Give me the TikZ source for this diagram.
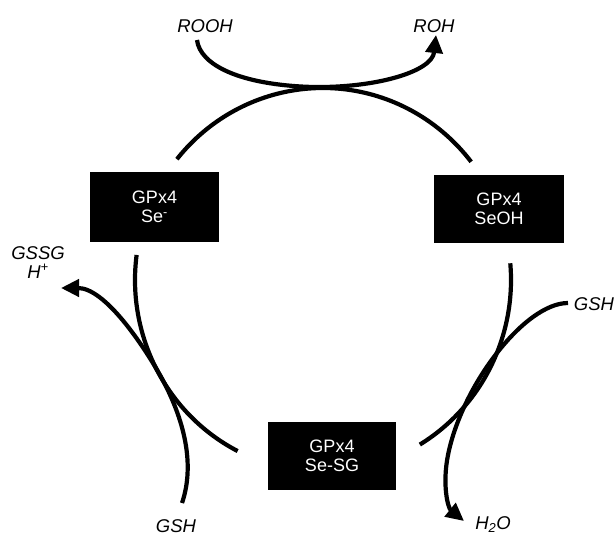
\documentclass[tikz,border=0pt]{standalone}
\usepackage{fontspec}
\setmainfont{Liberation Sans}
\usetikzlibrary{arrows.meta}
\begin{document}
\begin{tikzpicture}[x=1pt,y=1pt,
  ring/.style={line width=4.2pt},
  rxn/.style={line width=4.2pt,-{Triangle[length=18pt,width=17pt]}},
  enzyme/.style={fill=black,text=white,align=center,inner sep=0pt,
    font=\fontsize{18}{19}\selectfont},
  species/.style={inner sep=0pt,align=center,
    font=\fontsize{18.5}{18.5}\selectfont\itshape}]
\useasboundingbox (0,0) rectangle (616,-535);

% enzyme states
\node[enzyme,minimum width=129pt,minimum height=70pt] (sered) at (154.5,-207) {GPx4\\Se\textsuperscript{-}};
\node[enzyme,minimum width=130pt,minimum height=68pt] (seoh) at (499,-209) {GPx4\\SeOH};
\node[enzyme,minimum width=128pt,minimum height=68pt] (sesg) at (332,-456) {GPx4\\Se-SG};

% substrates and products
\node[species,anchor=base] (rooh) at (205,-33) {ROOH};
\node[species,anchor=base] (roh)  at (434,-33) {ROH};
\node[species,anchor=base] (gshr) at (594,-310) {GSH};
\node[species,anchor=base] (h2o)  at (493,-529) {H\textsubscript{2}O};
\node[species,anchor=base] (gshl) at (176,-532) {GSH};
\node[species,anchor=base] (gssg) at (38,-278) {GSSG\\H\textsuperscript{+}};

% catalytic cycle
\coordinate (cyc) at (323,-280);
\draw[ring] ([shift={(141:188 and 192)}]cyc) arc[start angle=141,end angle=38,x radius=188,y radius=192];
\draw[ring] ([shift={(5:188 and 192)}]cyc) arc[start angle=5,end angle=-59,x radius=188,y radius=192];
\draw[ring] ([shift={(172.5:188 and 192)}]cyc) arc[start angle=172.5,end angle=243,x radius=188,y radius=192];

% curve ends next to the labels
\coordinate (roohEnd) at (197,-40);
\coordinate (rohEnd)  at (436,-35);
\coordinate (gshrEnd) at (568,-303);
\coordinate (h2oEnd)  at (464,-521);
\coordinate (gshlEnd) at (182,-503);
\coordinate (gssgEnd) at (61,-288);

% peroxide reduction
\draw[rxn] (roohEnd) .. controls (200,-65) and (240,-85) .. (313,-87)
  .. controls (375,-88) and (432,-72) .. (rohEnd);
% first GSH: water released
\draw[rxn] (gshrEnd) .. controls (525,-303) and (462,-385) .. (448,-455)
  .. controls (442,-485) and (448,-508) .. (h2oEnd);
% second GSH: GSSG released
\draw[rxn] (gshlEnd) .. controls (195,-465) and (185,-420) .. (160,-375)
  .. controls (143,-345) and (105,-288) .. (gssgEnd);
\end{tikzpicture}
\end{document}
